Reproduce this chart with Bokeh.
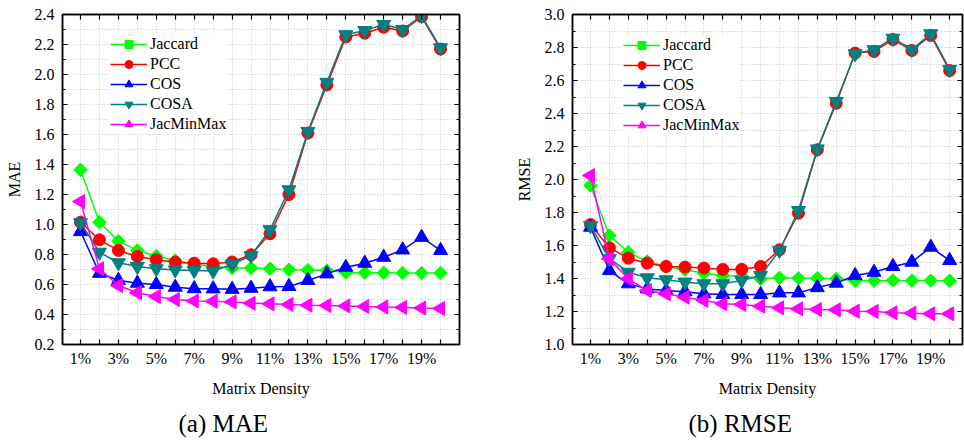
import numpy as np
from bokeh.plotting import figure
from bokeh.models import (Range1d, LinearAxis, FixedTicker, Title,
                          NumeralTickFormatter, Legend, LegendItem)
from bokeh.layouts import row
from bokeh.embed import file_html
from bokeh.resources import INLINE

density = list(range(1, 21))
x_ticks = list(range(1, 22))
x_tick_labels = {i: (f"{i}%" if i % 2 == 1 and i < 20 else "") for i in x_ticks}
mae_y_ticks = [0.2, 0.4, 0.6, 0.8, 1.0, 1.2, 1.4, 1.6, 1.8, 2.0, 2.2, 2.4]
mae_y_minor = [0.3, 0.5, 0.7, 0.9, 1.1, 1.3, 1.5, 1.7, 1.9, 2.1, 2.3]
rmse_y_ticks = [1.0, 1.2, 1.4, 1.6, 1.8, 2.0, 2.2, 2.4, 2.6, 2.8, 3.0]
rmse_y_minor = [1.1, 1.3, 1.5, 1.7, 1.9, 2.1, 2.3, 2.5, 2.7, 2.9]
series_names = ["Jaccard", "PCC", "COS", "COSA", "JacMinMax"]

mae_jaccard = [1.365, 1.015, 0.889, 0.827, 0.79, 0.76, 0.735, 0.72, 0.71, 0.71,
               0.705, 0.698, 0.696, 0.693, 0.68, 0.678, 0.678, 0.676, 0.676, 0.676]
mae_pcc = [1.015, 0.898, 0.827, 0.787, 0.765, 0.749, 0.742, 0.738, 0.75, 0.798,
           0.938, 1.20, 1.61, 1.93, 2.25, 2.275, 2.315, 2.29, 2.385, 2.17]
mae_cos = [0.953, 0.675, 0.628, 0.609, 0.60, 0.582, 0.572, 0.571, 0.568, 0.575,
           0.585, 0.587, 0.627, 0.671, 0.715, 0.742, 0.782, 0.831, 0.915, 0.827]
mae_cosa = [1.012, 0.815, 0.745, 0.72, 0.705, 0.697, 0.693, 0.69, 0.733, 0.793,
            0.965, 1.231, 1.62, 1.948, 2.265, 2.293, 2.333, 2.30, 2.393, 2.178]
mae_jacminmax = [1.153, 0.705, 0.593, 0.545, 0.52, 0.50, 0.49, 0.488, 0.484, 0.475,
                 0.471, 0.466, 0.462, 0.46, 0.457, 0.453, 0.45, 0.447, 0.443, 0.44]

rmse_jaccard = [1.964, 1.661, 1.559, 1.503, 1.473, 1.453, 1.432, 1.418, 1.415, 1.398,
                1.404, 1.402, 1.402, 1.398, 1.386, 1.386, 1.388, 1.387, 1.387, 1.387]
rmse_pcc = [1.727, 1.586, 1.523, 1.493, 1.473, 1.469, 1.463, 1.455, 1.455, 1.473,
            1.574, 1.796, 2.18, 2.462, 2.766, 2.776, 2.848, 2.782, 2.873, 2.66]
rmse_cos = [1.711, 1.448, 1.368, 1.337, 1.327, 1.32, 1.307, 1.303, 1.303, 1.303,
            1.313, 1.313, 1.345, 1.372, 1.418, 1.438, 1.473, 1.499, 1.59, 1.509]
rmse_cosa = [1.72, 1.52, 1.438, 1.404, 1.392, 1.378, 1.368, 1.368, 1.388, 1.418,
             1.57, 1.812, 2.185, 2.473, 2.762, 2.786, 2.856, 2.788, 2.883, 2.667]
rmse_jacminmax = [2.024, 1.519, 1.398, 1.327, 1.307, 1.287, 1.267, 1.247, 1.243, 1.232,
                  1.222, 1.216, 1.212, 1.21, 1.202, 1.2, 1.192, 1.19, 1.186, 1.186]

FONT = "Liberation Serif"
colors = ["#00FF00", "#FF0000", "#0000FF", "#008080", "#FF00FF"]
markers = [("square", np.pi / 4, 9.5), ("circle", 0.0, 12), ("triangle", 0.0, 14),
           ("inverted_triangle", 0.0, 14), ("triangle", np.pi / 2, 14)]


def style_axis(ax, labels=True):
    ax.axis_line_color = "black"
    ax.axis_line_width = 1.5
    ax.major_tick_in = 5
    ax.major_tick_out = 0
    ax.minor_tick_in = 3
    ax.minor_tick_out = 0
    ax.major_tick_line_color = "black"
    ax.minor_tick_line_color = "black"
    ax.major_tick_line_width = 1.2
    ax.minor_tick_line_width = 1
    if labels:
        ax.major_label_text_font = FONT
        ax.major_label_text_font_size = "16px"
        ax.major_label_text_color = "black"
    else:
        ax.major_label_text_font_size = "1px"
        ax.major_label_text_color = None
        ax.major_label_standoff = 0


def make_fig(width, mb_left, mb_right, xr, yr, y_ticks, y_minor, ylabel, data,
             legend_loc, caption, cap_offset):
    p = figure(width=width, height=446, x_range=Range1d(*xr), y_range=Range1d(*yr),
               output_backend="svg", toolbar_location=None,
               min_border_left=mb_left, min_border_right=mb_right,
               min_border_top=14, min_border_bottom=102)
    p.outline_line_color = "black"
    p.outline_line_width = 1.5
    p.background_fill_color = "white"
    p.border_fill_color = "white"

    xt = FixedTicker(ticks=x_ticks)
    yt = FixedTicker(ticks=y_ticks, minor_ticks=y_minor)

    p.xaxis.ticker = xt
    p.xaxis.major_label_overrides = x_tick_labels
    p.yaxis.ticker = yt
    p.yaxis.formatter = NumeralTickFormatter(format="0.0")
    for ax in (p.xaxis[0], p.yaxis[0]):
        style_axis(ax)
    p.xaxis.major_label_standoff = 5
    p.yaxis.major_label_standoff = 8
    p.xaxis.axis_label = "Matrix Density"
    p.yaxis.axis_label = ylabel
    for ax in (p.xaxis[0], p.yaxis[0]):
        ax.axis_label_text_font = FONT
        ax.axis_label_text_font_size = "16px"
        ax.axis_label_text_font_style = "normal"
        ax.axis_label_text_color = "black"
    p.xaxis.axis_label_standoff = 10
    p.yaxis.axis_label_standoff = 9

    top = LinearAxis(ticker=xt)
    style_axis(top, labels=False)
    p.add_layout(top, "above")
    right = LinearAxis(ticker=yt)
    style_axis(right, labels=False)
    p.add_layout(right, "right")

    p.xgrid.ticker = xt
    p.xgrid.grid_line_color = "#c4c4c4"
    p.xgrid.grid_line_dash = "1 2"
    p.ygrid.ticker = yt
    p.ygrid.grid_line_color = "#c4c4c4"
    p.ygrid.grid_line_dash = "1 2"
    p.ygrid.minor_grid_line_color = "#c4c4c4"
    p.ygrid.minor_grid_line_dash = "1 2"

    items = []
    for name, ys, c, (m, ang, sz) in zip(series_names, data, colors, markers):
        lr = p.line(density, ys, line_color=c, line_width=1.5)
        sr = p.scatter(density, ys, marker=m, angle=ang, size=sz,
                       fill_color=c, line_color=c, line_width=1)
        items.append(LegendItem(label=name, renderers=[lr, sr]))

    leg = Legend(items=items, location=legend_loc, padding=4, spacing=0,
                 glyph_height=20, glyph_width=37, label_height=20, label_standoff=3,
                 label_text_font=FONT, label_text_font_size="16px",
                 label_text_color="black", border_line_color=None,
                 background_fill_color="white", background_fill_alpha=1.0,
                 margin=0)
    p.add_layout(leg)

    cap = Title(text=caption, align="left", offset=cap_offset, standoff=16,
                text_font=FONT, text_font_size="25px", text_font_style="normal",
                text_color="black")
    p.add_layout(cap, "below")
    return p


p1 = make_fig(480, 62, 21, (0.05, 21.0), (0.2, 2.4), mae_y_ticks, mae_y_minor, "MAE",
              [mae_jaccard, mae_pcc, mae_cos, mae_cosa, mae_jacminmax],
              (48, 210), "(a) MAE", 116)
p2 = make_fig(484, 92, 2, (0.048, 20.68), (1.0, 3.0), rmse_y_ticks, rmse_y_minor, "RMSE",
              [rmse_jaccard, rmse_pcc, rmse_cos, rmse_cosa, rmse_jacminmax],
              (51, 209), "(b) RMSE", 116)

layout = row(p1, p2)
open("out.html", "w").write(file_html(layout, INLINE))
